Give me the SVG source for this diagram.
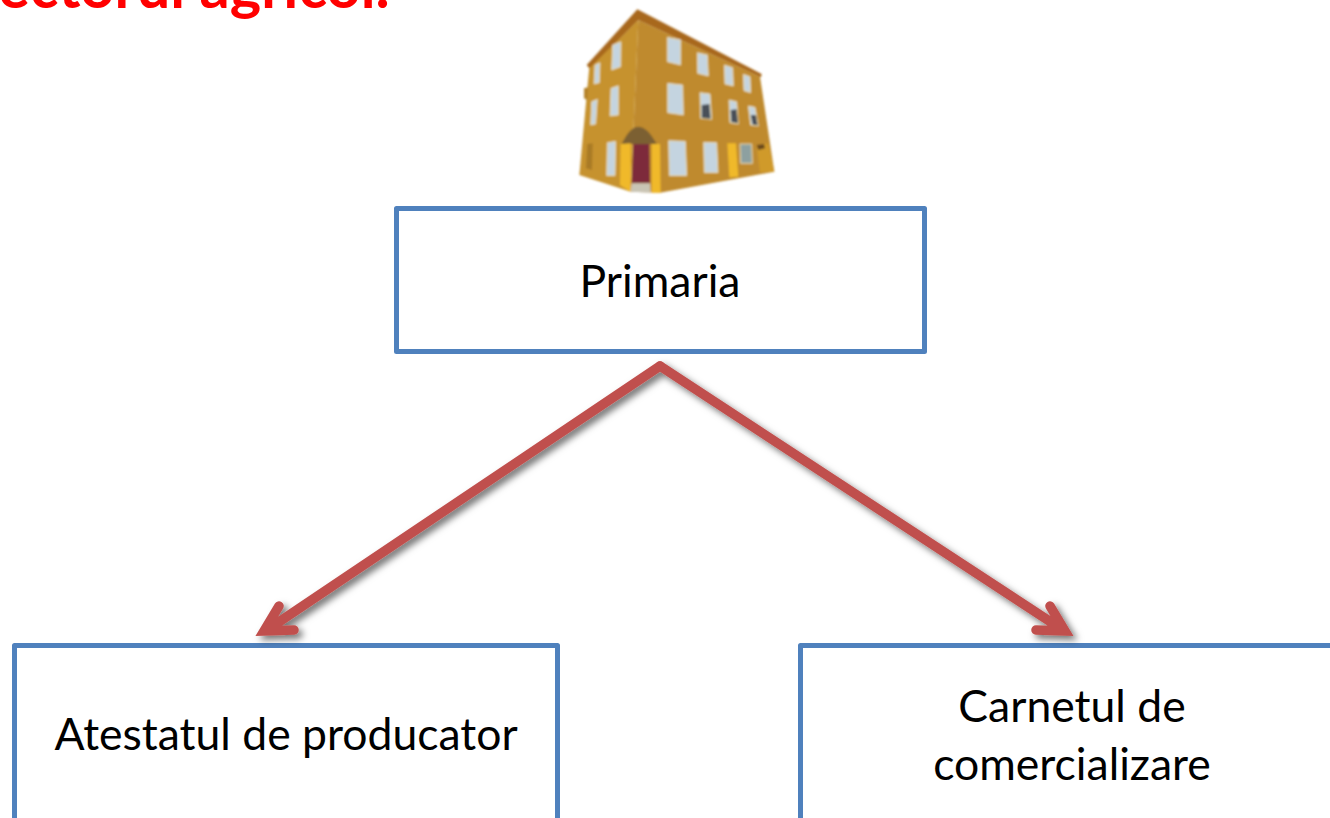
<svg xmlns="http://www.w3.org/2000/svg" width="1330" height="818" viewBox="0 0 1330 818">
<style>
text{font-family:Lato,"Liberation Sans",sans-serif;fill:#000;font-size:44.500px;text-anchor:middle}
.box{fill:#fff;stroke:#4f81bd;stroke-width:5;stroke-linejoin:round}
.arrow{fill:none;stroke:#c0504d;stroke-width:9.500;stroke-linecap:round;stroke-linejoin:miter}
.win{fill:#c4d4e0;stroke:#e8d9a8;stroke-width:3}
.pil{fill:#f0b92c}
</style>
<defs>
<filter id="sh" x="-10%" y="-10%" width="120%" height="125%"><feDropShadow dx="4" dy="4" stdDeviation="3.5" flood-color="#000" flood-opacity=".55"/></filter>
<filter id="soft" filterUnits="userSpaceOnUse" x="0" y="0" width="700" height="620"><feGaussianBlur stdDeviation="3"/></filter>
</defs>
<text id="title" x="-2" y="8" style="text-anchor:start;font-weight:700;fill:#f00;font-size:59.500px">ectorul agricol.</text>
<g id="building" transform="translate(560 0) scale(.33333)" filter="url(#soft)">
<polygon points="235,60 600,230 643,515 300,578 212,575" fill="#bf8a2e"/>
<polygon points="235,60 88,200 58,525 212,575" fill="#c6922e"/>
<polygon points="72,265 85,262 82,300 72,295" fill="#b5832a"/>
<polygon points="80,195 232,28 605,222 603,232 235,60 88,205" fill="#a8681f"/>
<polygon points="590,435 625,430 643,515 600,517" fill="#d09a2c"/>
<polygon points="590,435 612,432 615,445 595,450" fill="#6b4a1e"/>
<polygon points="82,432 98,430 96,510 78,505" fill="#a97a26"/>
<path d="M185,432Q210,380 235,380Q262,380 290,432Z" fill="#7c6030"/>
<polygon class="pil" points="182,432 212,430 212,575 180,555"/>
<polygon class="pil" points="275,432 300,432 302,578 275,578"/>
<polygon class="pil" points="502,430 528,430 535,530 508,532"/>
<polygon points="220,432 268,432 270,550 215,550" fill="#7d2a3a"/>
<polygon points="215,550 270,550 272,578 212,575" fill="#c9c5b5"/>
<polygon class="win" points="322,112 362,120 362,195 322,185"/>
<polygon class="win" points="412,158 442,165 445,228 413,220"/>
<polygon class="win" points="493,195 518,203 520,258 495,252"/>
<polygon class="win" points="550,223 570,230 572,278 552,272"/>
<polygon class="win" points="323,250 368,255 370,345 323,338"/>
<polygon class="win" points="420,278 450,282 455,358 422,355"/>
<polygon class="win" points="507,300 530,305 535,372 510,368"/>
<polygon class="win" points="565,318 585,322 595,378 572,375"/>
<polygon class="win" points="326,422 376,424 380,527 328,527"/>
<polygon class="win" points="431,427 470,428 474,518 433,518"/>
<polygon class="win" points="540,432 575,432 577,490 542,490" style="fill:#8da0a0"/>
<polygon class="win" points="158,135 183,125 182,200 155,210"/>
<polygon class="win" points="105,195 120,188 118,248 102,252"/>
<polygon class="win" points="153,265 175,257 175,345 150,348"/>
<polygon class="win" points="95,305 112,298 107,372 92,375"/>
<polygon class="win" points="142,428 167,424 165,527 140,527"/>
<polygon points="425,315 448,312 452,356 425,354" fill="#4a5058"/>
<polygon points="512,330 530,328 534,370 514,366" fill="#4a5058"/>
<polygon points="572,345 588,345 593,376 578,374" fill="#4a5058"/>
</g>
<g id="node-primaria">
<rect class="box" x="396.500" y="208.500" width="528" height="143"/>
<text x="660" y="297">Primaria</text>
</g>
<g id="node-atestat">
<rect class="box" x="14.500" y="645.500" width="543" height="200"/>
<text x="286" y="750">Atestatul de producator</text>
</g>
<g id="node-carnet">
<rect class="box" x="800.500" y="645.500" width="560" height="200"/>
<text x="1072" y="722">Carnetul de</text>
<text x="1072" y="780">comercializare</text>
</g>
<g id="connectors" filter="url(#sh)">
<path class="arrow" d="M660,366L267,630M279,606L264,631L294,630"/>
<path class="arrow" d="M660,366L1063,630M1050,606L1065,631L1036,630"/>
</g>
</svg>
